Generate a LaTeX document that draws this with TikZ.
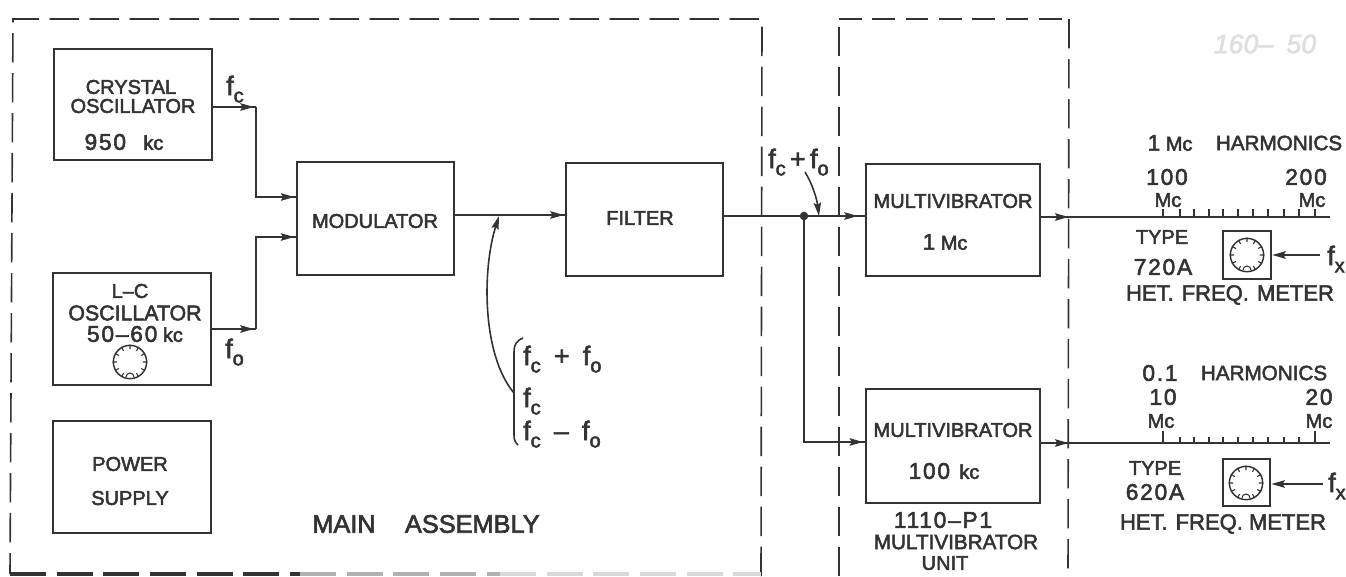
\documentclass[tikz,border=0pt]{standalone}
\usepackage{fontspec}
\usepackage{xcolor}
\setmainfont[RawFeature={embolden=2.5}]{Liberation Sans}
\usetikzlibrary{arrows.meta,decorations.markings,calc}
\definecolor{inkgray}{HTML}{333333}
\newcommand{\fsub}[1]{f\raisebox{-5.5pt}{\fontsize{15}{15}\selectfont #1}}
\newcommand{\digits}[1]{{\fontsize{17}{17}\selectfont\addfontfeature{LetterSpace=8}#1}}
\newcommand{\dialticks}[1]{
\foreach \a in {-60,-30,...,240}
  \draw[line width=0.8pt, draw=inkgray] (#1.\a) -- ($(#1.center)!0.74!(#1.\a)$);
\draw[line width=0.8pt, draw=inkgray] ($(#1.center)+(-4,15)$) arc[start angle=180, end angle=0, radius=3pt];
}
\tikzset{
  every node/.style={text=inkgray, inner sep=0pt, font=\fontsize{15}{15}\selectfont},
  block/.style={draw=inkgray, line width=1.7pt, rectangle},
  wire/.style={draw=inkgray, line width=1.7pt},
  thinwire/.style={draw=inkgray, line width=1.2pt},
  border/.style={draw=inkgray, line width=1.2pt, dash pattern=on 22pt off 8pt},
  dial/.style={draw=inkgray, line width=1.1pt, circle, minimum size=25pt},
  headtip/.tip={Stealth[length=10pt,width=5.5pt,inset=1.5pt]},
  tip at/.style={postaction={decorate}, decoration={markings, mark=at position #1 with {\arrow[inkgray]{headtip}}}},
  freq/.style={font=\fontsize{20}{20}\selectfont, anchor=base west},
}
\begin{document}
\begin{tikzpicture}[x=0.75pt,y=-0.75pt]
\useasboundingbox (0,0) rectangle (1346,576);

% main assembly
\coordinate (ma1) at (10,574);
\coordinate (ma2) at (13,19);
\coordinate (ma3) at (762,19);
\coordinate (ma4) at (761,576);
\coordinate (mafade) at (300,574);
\coordinate (mafaint) at (500,574);
\draw[border] (ma4) -- (ma3) -- (ma2) -- (ma1);
\draw[border, line width=2.4pt, dash pattern=on 27pt off 8pt] (ma1) -- (mafade);
\draw[border, line width=2.4pt, dash pattern=on 27pt off 8pt, draw=gray!60] (mafade) -- (mafaint);
\draw[border, line width=2.4pt, dash pattern=on 27pt off 8pt, draw=gray!30] (mafaint) -- (ma4 |- ma1);
\node[font=\fontsize{19}{19}\selectfont] (mainlabel) at (426,524) {MAIN\hspace{22pt}ASSEMBLY};

% multivibrator unit
\coordinate (mu1) at (839,576);
\coordinate (mu2) at (839,19);
\coordinate (mu3) at (1069,19);
\coordinate (mu4) at (1068,576);
\draw[border, dash pattern=on 17pt off 8pt] (mu2) -- (mu3);
\draw[border] (mu1) -- (mu2);
\draw[border] (mu3) -- (mu4);
\node (unit1) at (943,520) {\digits{1110--P1}};
\node[font=\fontsize{15.5}{15.5}\selectfont] (unit2) at (956,542) {MULTIVIBRATOR};
\node (unit3) at (945,563) {UNIT};

% boxes
\draw[block] (54,49) rectangle (212,160);
\coordinate (xtalout) at (212,107);
\node (xtal1) at (131,87) {CRYSTAL};
\node (xtal2) at (133,106) {OSCILLATOR};
\node (xtal3) at (124,142) {\digits{950}\hspace{13pt}kc};

\draw[block] (53,273) rectangle (211,385);
\coordinate (lcout) at (211,329);
\node (lc1) at (130,291) {L--C};
\node[font=\fontsize{16}{16}\selectfont] (lc2) at (135,313) {OSCILLATOR};
\node (lc3) at (135,334) {\digits{50--60} kc};
\node[dial] (lcdial) at (130,362) {};
\dialticks{lcdial}

\draw[block] (53,421) rectangle (211,533);
\node (psu1) at (130,464) {POWER};
\node (psu2) at (130,498) {SUPPLY};

\node[block, minimum width=117.75pt, minimum height=84.5pt] (mod) at (375.5,218.5) {};
\node (modlabel) at (375,221) {MODULATOR};
\node[block, minimum width=117.75pt, minimum height=84.5pt] (filter) at (644.5,219.5) {};
\node (filterlabel) at (640,218) {FILTER};
\node[block, minimum width=130.5pt, minimum height=84pt] (mv1) at (953,220) {};
\node (mv1a) at (953,201) {MULTIVIBRATOR};
\node (mv1b) at (945,242) {\digits{1} Mc};
\node[block, minimum width=130.5pt, minimum height=85.5pt] (mv2) at (953,446) {};
\node (mv2a) at (953,430) {MULTIVIBRATOR};
\node (mv2b) at (944,471) {\digits{100}\hspace{7pt}kc};

% wiring
\coordinate (fcbend) at (256,107);
\coordinate (fcin) at (297,197);
\coordinate (fobend) at (256,329);
\coordinate (foin) at (297,237);
\coordinate (modout) at (454,215);
\coordinate (filterin) at (566,215);
\draw[wire, tip at=0.95] (xtalout) -- (fcbend);
\draw[wire, tip at=0.98] (fcbend) |- (fcin);
\draw[wire, tip at=0.95] (lcout) -- (fobend);
\draw[wire, tip at=0.98] (fobend) |- (foin);
\draw[wire, tip at=0.98] (modout) -- (filterin);
\coordinate (join) at (804,216);
\coordinate (mv2in) at (866,442);
\draw[wire, tip at=0.95] (filter.east |- join) -- (mv1.west |- join);
\draw[wire, tip at=0.99] (join) |- (mv2in);
\fill[inkgray] (join) circle (3.2pt);
\node[freq] (sumlabel) at (768,168) {\fsub{c}\,+\,\fsub{o}};
\node[freq] (fclabel) at (226,95) {\fsub{c}};
\node[freq] (folabel) at (225,358) {\fsub{o}};
\coordinate (sumtip) at (819,216);
\coordinate (sumtail) at (805,172);
\draw[thinwire, -headtip] (sumtail) .. controls (813,185) and (817,200) .. (sumtip);

% products
\coordinate (bracetop) at (523,338);
\coordinate (bracemid) at (514,393);
\coordinate (bracebot) at (518,445);
\coordinate (modtap) at (499,216);
\draw[thinwire] (bracetop) .. controls (516,341) and (514,345) .. (514,352) -- (bracemid) -- (514,435) .. controls (514,440) and (515,442) .. (bracebot);
\draw[thinwire, -headtip] (bracemid) .. controls (482,355) and (482,270) .. (modtap);
\node[freq] (prod1) at (523,365) {\fsub{c}\hspace{10pt}+\hspace{10pt}\fsub{o}};
\node[freq] (prod2) at (523,407) {\fsub{c}};
\node[freq] (prod3) at (523,440) {\fsub{c}\hspace{10pt}--\hspace{10pt}\fsub{o}};

% harmonics scales
\coordinate (scale1) at (1330,217);
\coordinate (scale2) at (1330,443);
\draw[wire, tip at=0.095] (mv1.east |- scale1) -- (scale1);
\draw[wire, tip at=0.095] (mv2.east |- scale2) -- (scale2);
\foreach \x in {1163,1180,1194,1209,1223,1238,1253,1268,1284,1299,1315} {
  \draw[thinwire] (\x,217) -- (\x,209);
  \draw[thinwire] (\x,443) -- (\x,437);
}
\draw[thinwire] (1163,443) -- (1163,431);
\draw[thinwire] (1315,443) -- (1315,431);

\node (top1) at (1170,143) {\digits{1} Mc};
\node[font=\fontsize{15.5}{15.5}\selectfont] (top2) at (1279,143) {HARMONICS};
\node (top3) at (1167,177) {\digits{100}};
\node (top4) at (1306,177) {\digits{200}};
\node (top5) at (1168,200) {Mc};
\node (top6) at (1312,200) {Mc};
\node (type1) at (1162,237) {TYPE};
\node (type2) at (1163,267) {\digits{720A}};
\node[font=\fontsize{16.5}{16.5}\selectfont] (meter1) at (1230,295) {HET.\hspace{6pt}FREQ.\hspace{6pt}METER};

\node (low1) at (1160,373) {\digits{0.1}};
\node[font=\fontsize{15.5}{15.5}\selectfont] (low2) at (1264,373) {HARMONICS};
\node (low3) at (1163,397) {\digits{10}};
\node (low4) at (1319,397) {\digits{20}};
\node (low5) at (1161,421) {Mc};
\node (low6) at (1319,421) {Mc};
\node (type3) at (1155,468) {TYPE};
\node (type4) at (1155,492) {\digits{620A}};
\node[font=\fontsize{16.5}{16.5}\selectfont] (meter2) at (1223,524) {HET.\hspace{6pt}FREQ. METER};

% meters
\node[block, minimum size=36pt] (box1) at (1247,255) {};
\node[dial] (dial1) at (1247,255) {};
\dialticks{dial1}
\coordinate (fx1) at (1320,255);
\draw[wire, -headtip] (fx1) -- (box1.east);
\node[freq] (fxlabel1) at (1327,265) {\fsub{x}};
\node[block, minimum size=35.5pt] (box2) at (1246.5,482.5) {};
\node[dial] (dial2) at (1246,483) {};
\dialticks{dial2}
\coordinate (fx2) at (1323,484);
\draw[wire, -headtip] (fx2) -- (box2.east |- fx2);
\node[freq] (fxlabel2) at (1328,492) {\fsub{x}};

% pencil note
\node[text=gray!25, font=\fontsize{20}{20}\selectfont\itshape] (pencil) at (1265,44) {160--\hspace{10pt}50};
\end{tikzpicture}
\end{document}
